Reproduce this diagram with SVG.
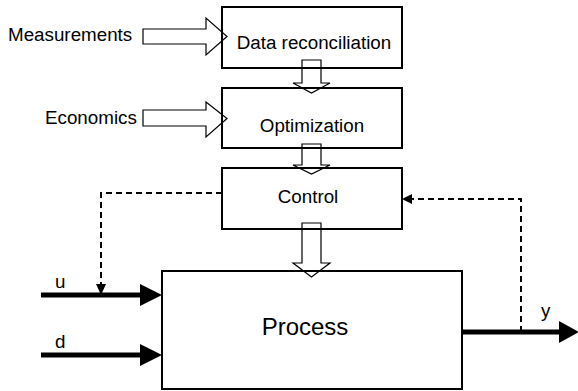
<svg xmlns="http://www.w3.org/2000/svg" width="578" height="391" viewBox="0 0 578 391">
<style>
text{font-family:"Liberation Sans",Arial,sans-serif;fill:#000}
.lbl{font-size:18.8px}
.box{fill:none;stroke:#000;stroke-width:2}
.hollow{fill:#fff;stroke:#000;stroke-width:1.2}
.thick{stroke:#000;stroke-width:5;fill:none}
.dash{stroke:#000;stroke-width:2;fill:none;stroke-dasharray:6,4}
.head{fill:#000}
</style>
<rect width="578" height="391" fill="#fff"/>
<g id="connectors">
<polygon class="hollow" points="143,29 206,29 206,18 227,36.5 206,55 206,44 143,44"/>
<polygon class="hollow" points="143,110 206,110 206,102 227,118.5 206,137 206,126 143,126"/>
<polygon class="hollow" points="302,60 321,60 321,83 330,83 311.5,93 293,83 302,83"/>
<polygon class="hollow" points="302,144 321,144 321,165 330,165 311.5,174 293,165 302,165"/>
<polygon class="hollow" points="302,223 321,223 321,263 330,263 311.5,277 293,263 302,263"/>
<line class="thick" x1="41" y1="295" x2="142" y2="295"/>
<polygon class="head" points="140,284 162,295 140,306"/>
<line class="thick" x1="41" y1="355" x2="142" y2="355"/>
<polygon class="head" points="140,344 162,355 140,366"/>
<line class="thick" x1="462" y1="332" x2="562" y2="332"/>
<polygon class="head" points="559,321 579,332 559,343"/>
<path class="dash" d="M222,193 H101 V285"/>
<polygon class="head" points="96,284 106,284 101,295"/>
<path class="dash" d="M521,332 V199 H412"/>
<polygon class="head" points="402,199 412,194 412,204"/>
</g>
<g id="measurements"><text class="lbl" x="8" y="41">Measurements</text></g>
<g id="economics"><text class="lbl" x="45" y="124">Economics</text></g>
<g id="data-reconciliation">
<rect class="box" x="222" y="7" width="180" height="61"/>
<text class="lbl" x="314" y="49" text-anchor="middle">Data reconciliation</text>
</g>
<g id="optimization">
<rect class="box" x="222" y="88" width="180" height="60"/>
<text class="lbl" x="312" y="132" text-anchor="middle">Optimization</text>
</g>
<g id="control">
<rect class="box" x="222" y="168" width="180" height="61"/>
<text class="lbl" x="308" y="203" text-anchor="middle">Control</text>
</g>
<g id="process">
<rect class="box" x="162" y="271" width="300" height="118"/>
<text x="305" y="335" font-size="24" text-anchor="middle">Process</text>
</g>
<g id="u"><text class="lbl" x="55" y="288">u</text></g>
<g id="d"><text class="lbl" x="55" y="348">d</text></g>
<g id="y"><text class="lbl" x="541" y="317">y</text></g>
</svg>
